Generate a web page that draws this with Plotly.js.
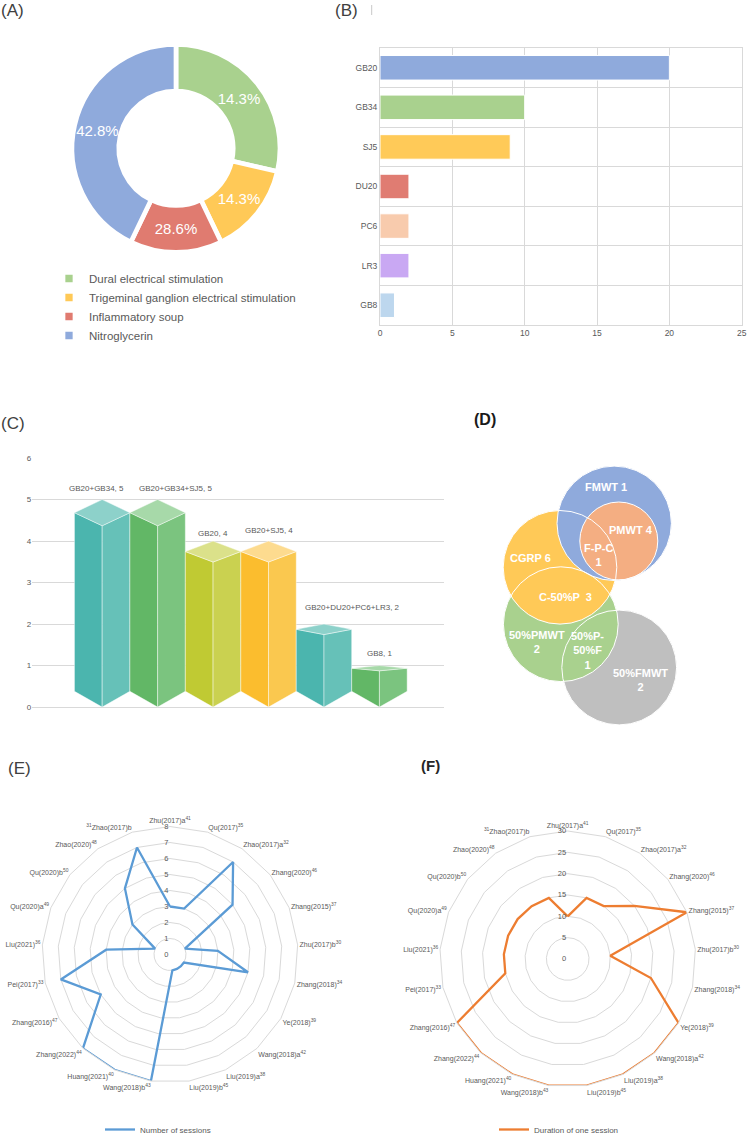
<!DOCTYPE html>
<html>
<head>
<meta charset="utf-8">
<script src="https://cdn.plot.ly/plotly-3.0.1.min.js"></script>
<style>html,body{margin:0;padding:0;background:#fff;}#chart{width:747px;height:1144px;}</style>
</head>
<body>
<div id="chart"></div>
<script>
// ---------------- DATA ----------------
// (A) model types
const aLabels = ['Dural electrical stimulation','Trigeminal ganglion electrical stimulation','Inflammatory soup','Nitroglycerin'];
const aSliceCounts = [6, 3, 3, 9];
const aShownPercent = ['14.3%', '14.3%', '28.6%', '42.8%'];

// (B) acupoint frequency
const bPoints = ['GB20','GB34','SJ5','DU20','PC6','LR3','GB8'];
const bCounts = [20, 10, 9, 2, 2, 2, 1];

// (C) acupoint combinations
const cCombos = ['GB20+GB34','GB20+GB34+SJ5','GB20','GB20+SJ5','GB20+DU20+PC6+LR3','GB8'];
const cCounts = [5, 5, 4, 4, 2, 1];

// (D) outcome indicators (Venn)
const dSets = ['FMWT','PMWT','CGRP','50%PMWT','50%FMWT'];
const dRegionNames = ['FMWT','PMWT','F-P-C','CGRP','C-50%P','50%PMWT','50%P-<br>50%F','50%FMWT'];
const dRegionCounts = [1, 4, 1, 6, 3, 2, 1, 2];

// (E)/(F) studies
const studies = ['Zhu(2017)a','Qu(2017)','Zhao(2017)a','Zhang(2020)','Zhang(2015)','Zhu(2017)b','Zhang(2018)','Ye(2018)','Wang(2018)a','Liu(2019)a','Liu(2019)b','Wang(2018)b','Huang(2021)','Zhang(2022)','Zhang(2016)','Pei(2017)','Liu(2021)','Qu(2020)a','Qu(2020)b','Zhao(2020)','Zhao(2017)b'];
const refNums = [41,35,32,46,37,30,34,39,42,38,45,43,40,44,47,33,36,49,50,48,31];
const sessions = [3,3,7,5,1,3,5,1,1,1,1,8,8,8,5,7,4,1,3,5,7];
const duration = [10,15,15,20,30,10,20,30,30,30,30,30,30,30,30,15,15,15,15,15,15];

// ---------------- STYLE / GEOMETRY ----------------
const W = 747, H = 1144;
const X = p => p / W;
const Y = p => 1 - p / H;
const FONT = 'Liberation Sans, Arial, Helvetica, sans-serif';
const GRID = '#d9d9d9';
const TXT = '#595959';

const aColors = ['#a9d18e','#ffc957','#e07b70','#8faadc'];
const bColors = ['#8faadc','#a9d18e','#ffca58','#e07c72','#f8cbad','#c9a8f3','#bdd7ee'];
const cFaceColors = [
  {l:'#4bb5ae', r:'#66c1b8', t:'#8dd1ca'},
  {l:'#62b766', r:'#7bc47f', t:'#a7d9a9'},
  {l:'#c0ca33', r:'#cad150', t:'#dbe18a'},
  {l:'#fbbd2e', r:'#fac84f', t:'#fddb8f'},
  {l:'#4bb5ae', r:'#66c1b8', t:'#8dd1ca'},
  {l:'#62b766', r:'#7bc47f', t:'#a7d9a9'}
];
const cLabelXShift = [-6, 18, 0, 0, 29, 0];
const cLabelYShift = [11, 11, 8, 11, 17, 12];
const topDepth = 0.063;   // perspective depth of top face per unit height
const bottomDepth = 0.38;

// Venn circle layout (pixel space of panel D)
const dCircleGeom = {
  'FMWT':    {cx:614.2, cy:523.3, r:57.2, color:'#8faadc'},
  'PMWT':    {cx:618.8, cy:541.0, r:39.0, color:'#f4ae82'},
  'CGRP':    {cx:560.0, cy:567.3, r:56.8, color:'#ffc957'},
  '50%PMWT': {cx:560.8, cy:624.2, r:57.4, color:'#a9d18e'},
  '50%FMWT': {cx:619.2, cy:667.5, r:57.4, color:'#bfbfbf'}
};
const dDrawOrder = ['50%FMWT','50%PMWT','CGRP','FMWT','PMWT'];
const dLabelPos = [[606,487.5],[631,529.5],[598,555],[530,557.5],[565,596.5],[537,642],[587.5,650.5],[640,680]];
const dLabelSep = [' ',' ','<br>',' ','  ','<br>','<br>','<br>'];

// ---------------- TRACES ----------------
const traces = [];

// (A) donut
traces.push({
  type:'pie', values:aSliceCounts, labels:aLabels, text:aShownPercent,
  textinfo:'text', textposition:'inside', insidetextorientation:'horizontal',
  insidetextfont:{size:15, color:'#ffffff', family:FONT},
  hole:0.55, sort:false, direction:'clockwise', rotation:0,
  marker:{colors:aColors, line:{color:'#ffffff', width:4.7}},
  domain:{x:[X(72),X(280)], y:[Y(252.3),Y(44.3)]},
  legend:'legend', hoverinfo:'skip'
});

// (B) horizontal bars
traces.push({
  type:'bar', orientation:'h', y:bPoints, x:bCounts, xaxis:'x', yaxis:'y',
  marker:{color:bColors, line:{color:'#ffffff', width:1}},
  showlegend:false, hoverinfo:'skip'
});

// (C) pseudo-3D prisms built from the values
cCounts.forEach((v, i) => {
  const d = topDepth * v;
  const col = cFaceColors[i];
  const faces = [
    {x:[i-0.5, i, i, i-0.5, i-0.5], y:[v-d, v-2*d, 0, bottomDepth, v-d], c:col.l},
    {x:[i, i+0.5, i+0.5, i, i], y:[v-2*d, v-d, bottomDepth, 0, v-2*d], c:col.r},
    {x:[i-0.5, i, i+0.5, i, i-0.5], y:[v-d, v, v-d, v-2*d, v-d], c:col.t}
  ];
  faces.forEach(f => traces.push({
    type:'scatter', mode:'lines', x:f.x, y:f.y, xaxis:'x2', yaxis:'y2',
    fill:'toself', fillcolor:f.c, line:{color:'rgba(255,255,255,0.55)', width:0.8},
    showlegend:false, hoverinfo:'skip'
  }));
});

// (E)/(F) radar
const closed = a => a.concat([a[0]]);
const tickText = studies.map((s, i) => i === studies.length - 1
  ? `<sup>${refNums[i]}</sup>${s}` : `${s}<sup>${refNums[i]}</sup>`);

traces.push({
  type:'scatterpolar', mode:'lines', subplot:'polar',
  r:closed(sessions), theta:closed(studies),
  line:{color:'#5b9bd5', width:2.3}, name:'Number of sessions',
  legend:'legend2', hoverinfo:'skip'
});
traces.push({
  type:'scatterpolar', mode:'lines', subplot:'polar2',
  r:closed(duration), theta:closed(studies),
  line:{color:'#ed7d31', width:2.3}, name:'Duration of one session',
  legend:'legend3', hoverinfo:'skip'
});

// ---------------- SHAPES / ANNOTATIONS ----------------
const shapes = [];
// small separator mark next to (B)
shapes.push({type:'line', xref:'paper', yref:'paper', x0:X(371.7), x1:X(371.7), y0:Y(5), y1:Y(15), line:{color:'#c8c8c8', width:1}});

dDrawOrder.forEach(name => {
  const g = dCircleGeom[name];
  shapes.push({type:'circle', xref:'x3', yref:'y3', x0:g.cx-g.r, x1:g.cx+g.r, y0:g.cy-g.r, y1:g.cy+g.r,
    fillcolor:g.color, line:{width:0}, layer:'above'});
});
dDrawOrder.forEach(name => {
  const g = dCircleGeom[name];
  shapes.push({type:'circle', xref:'x3', yref:'y3', x0:g.cx-g.r, x1:g.cx+g.r, y0:g.cy-g.r, y1:g.cy+g.r,
    fillcolor:'rgba(0,0,0,0)', line:{color:'#ffffff', width:1}, layer:'above'});
});

const annotations = [];
const panelLabel = (t, x, y, bold, size, color) => annotations.push({
  text: bold ? `<b>${t}</b>` : t, xref:'paper', yref:'paper', x:X(x), y:Y(y),
  xanchor:'left', yanchor:'middle', showarrow:false,
  font:{family:FONT, size:size, color:color}
});
panelLabel('(A)', -1, 11, false, 17, '#404040');
panelLabel('(B)', 333, 11, false, 17, '#404040');
panelLabel('(C)', -1, 423, false, 17, '#404040');
panelLabel('(D)', 472, 420, true, 16, '#1a1a1a');
panelLabel('(E)', 6, 768, false, 17, '#404040');
panelLabel('(F)', 419, 765, true, 15, '#262626');

cCombos.forEach((name, i) => annotations.push({
  text:`${name}, ${cCounts[i]}`, xref:'x2', yref:'y2', x:i, y:cCounts[i],
  xanchor:'center', yanchor:'middle', xshift:cLabelXShift[i], yshift:cLabelYShift[i],
  showarrow:false, font:{family:FONT, size:8, color:TXT}
}));

dRegionNames.forEach((name, i) => annotations.push({
  text:`<b>${name}${dLabelSep[i]}${dRegionCounts[i]}</b>`, xref:'x3', yref:'y3',
  x:dLabelPos[i][0], y:dLabelPos[i][1], xanchor:'center', yanchor:'middle',
  showarrow:false, font:{family:FONT, size:11, color:'#ffffff'}
}));

// ---------------- LAYOUT ----------------
const layout = {
  width:W, height:H, margin:{l:0, r:0, t:0, b:0},
  paper_bgcolor:'#ffffff', plot_bgcolor:'rgba(0,0,0,0)',
  font:{family:FONT, color:TXT},
  hovermode:false,
  bargap:0.38,
  legend:{x:X(49), y:Y(264), xanchor:'left', yanchor:'top', bgcolor:'rgba(0,0,0,0)',
    font:{size:11.5, color:TXT, family:FONT}, traceorder:'normal'},
  legend2:{x:X(100), y:0, xanchor:'left', yanchor:'bottom', bgcolor:'rgba(0,0,0,0)',
    font:{size:8, color:TXT, family:FONT}},
  legend3:{x:X(494), y:0, xanchor:'left', yanchor:'bottom', bgcolor:'rgba(0,0,0,0)',
    font:{size:8, color:TXT, family:FONT}},
  xaxis:{domain:[X(380),X(741.7)], anchor:'y', range:[0,25], dtick:5, showgrid:true, gridcolor:GRID,
    showline:true, mirror:true, linecolor:GRID, zeroline:false, ticks:'', tickfont:{size:8.5, color:TXT}, fixedrange:true},
  yaxis:{domain:[Y(325),Y(48)], anchor:'x', type:'category', autorange:'reversed', tickson:'boundaries',
    showgrid:true, gridcolor:GRID, showline:true, mirror:true, linecolor:GRID, ticks:'',
    tickfont:{size:8.5, color:TXT}, fixedrange:true},
  xaxis2:{domain:[X(32.3),X(444.3)], anchor:'y2', range:[-1.26,6.17], visible:false, fixedrange:true},
  yaxis2:{domain:[Y(707.5),Y(457.7)], anchor:'x2', range:[-0.01,6.01], dtick:1, showgrid:true, gridcolor:GRID,
    zeroline:true, zerolinecolor:GRID, zerolinewidth:1, showline:false, ticks:'', tickfont:{size:8, color:TXT}, fixedrange:true},
  xaxis3:{domain:[X(470),X(747)], anchor:'y3', range:[470,747], visible:false, fixedrange:true},
  yaxis3:{domain:[Y(740),Y(440)], anchor:'x3', range:[740,440], visible:false, fixedrange:true},
  polar:{
    domain:{x:[X(42),X(298)], y:[Y(1082.5),Y(826.5)]}, gridshape:'linear', bgcolor:'rgba(0,0,0,0)',
    angularaxis:{type:'category', direction:'clockwise', rotation:90, showgrid:false, showline:true, linecolor:GRID,
      ticks:'', tickmode:'array', tickvals:studies, ticktext:tickText, tickfont:{size:7, color:TXT}},
    radialaxis:{range:[0,8], dtick:1, angle:90, tickangle:90, side:'counterclockwise', showline:false, ticks:'',
      gridcolor:GRID, tickfont:{size:7.5, color:TXT}}
  },
  polar2:{
    domain:{x:[X(439.7),X(695.7)], y:[Y(1087),Y(831)]}, gridshape:'linear', bgcolor:'rgba(0,0,0,0)',
    angularaxis:{type:'category', direction:'clockwise', rotation:90, showgrid:false, showline:true, linecolor:GRID,
      ticks:'', tickmode:'array', tickvals:studies, ticktext:tickText, tickfont:{size:7, color:TXT}},
    radialaxis:{range:[0,30], dtick:5, angle:90, tickangle:90, side:'counterclockwise', showline:false, ticks:'',
      gridcolor:GRID, tickfont:{size:7.5, color:TXT}}
  },
  shapes:shapes,
  annotations:annotations
};

Plotly.newPlot('chart', traces, layout, {staticPlot:true, displayModeBar:false});
</script>
</body>
</html>
